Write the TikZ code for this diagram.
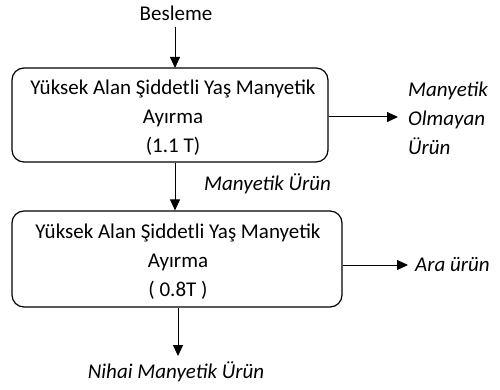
\documentclass[tikz,border=0pt]{standalone}
\usepackage{fontspec}
\setmainfont{Carlito}
\usetikzlibrary{arrows.meta}
\begin{document}
\begin{tikzpicture}[x=1pt,y=-1pt,
  procbox/.style={draw, line width=1.2pt, rounded corners=12pt},
  lbl/.style={inner sep=0pt, font=\fontsize{21}{29}\selectfont, align=center},
  ital/.style={inner sep=0pt, font=\fontsize{21}{29}\selectfont\itshape},
  flow/.style={line width=1pt, -{Triangle[length=11pt,width=10pt]}}]
\useasboundingbox (0,0) rectangle (500,390);
\node[procbox, minimum width=316pt, minimum height=94pt] (b1) at (170,115) {};
\node[lbl] (t1) at (173,118) {Yüksek Alan Şiddetli Yaş Manyetik\\Ayırma\\(1.1 T)};
\node[procbox, minimum width=330pt, minimum height=96pt] (b2) at (177,259) {};
\node[lbl] (t2) at (178,262) {Yüksek Alan Şiddetli Yaş Manyetik\\Ayırma\\( 0.8T )};
\node[lbl] (feed) at (176,13) {Besleme};
\coordinate (f0) at (175,27);
\draw[flow] (f0) -- (175,68);
\node[ital, align=left, anchor=west] (nm) at (408,118) {Manyetik\\Olmayan\\Ürün};
\coordinate (r1) at (398,117);
\draw[flow] (b1.east |- r1) -- (r1);
\node[ital, anchor=west] (mu) at (204,184) {Manyetik Ürün};
\draw[flow] (b1.south -| 175,0) -- (b2.north -| 175,0);
\node[ital, anchor=west] (ara) at (415,265) {Ara ürün};
\coordinate (r2) at (408,265);
\draw[flow] (b2.east |- r2) -- (r2);
\node[ital] (nihai) at (176,372) {Nihai Manyetik Ürün};
\coordinate (d2) at (178,356);
\draw[flow] (b2.south -| d2) -- (d2);
\end{tikzpicture}
\end{document}
